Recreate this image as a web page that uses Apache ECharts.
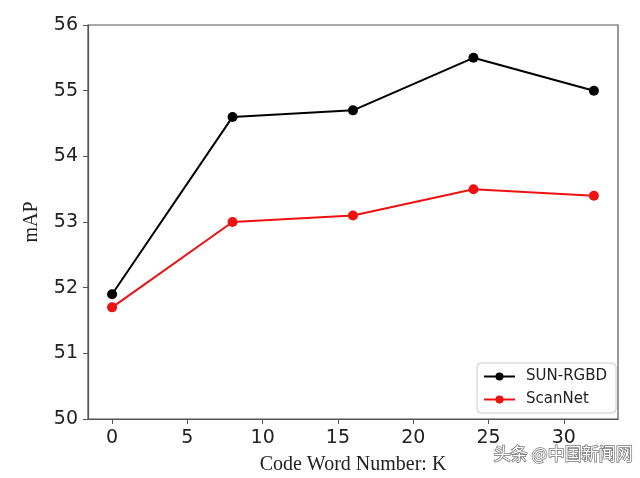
<!DOCTYPE html>
<html><head><meta charset="utf-8">
<script src="https://cdn.jsdelivr.net/npm/echarts@6/dist/echarts.min.js"></script>
<style>html,body{margin:0;padding:0;background:#fff}#c{width:640px;height:478px}</style>
</head><body><div id="c"></div>
<script>
const kValues = [0, 8, 16, 24, 32];
const sunRGBD = [51.9, 54.6, 54.7, 55.5, 55.0];
const scanNet = [51.7, 53.0, 53.1, 53.5, 53.4];
const xTicks = [0, 5, 10, 15, 20, 25, 30];
const seriesNames = ['SUN-RGBD', 'ScanNet'];

const chart = echarts.init(document.getElementById('c'));
chart.setOption({
  backgroundColor: '#fff',
  animation: false,
  grid: {left: 88, right: 22, top: 25, bottom: 59, show: true, borderColor: '#555', borderWidth: 1.2,
         containLabel: false, outerBoundsMode: 'none'},
  legend: {
    data: seriesNames, orient: 'vertical', left: 477, top: 363,
    backgroundColor: '#fff', borderColor: '#ccc', borderWidth: 1, borderRadius: 4,
    padding: [6, 9, 6, 6], itemGap: 8, itemWidth: 31, itemHeight: 10,
    textStyle: {fontFamily: 'DejaVu Sans', fontSize: 15, color: '#222', padding: [0, 0, 0, 6]}
  },
  xAxis: {
    type: 'value', min: -1.6, max: 33.6,
    name: 'Code Word Number: K', nameLocation: 'middle', nameGap: 36,
    nameTextStyle: {fontFamily: 'Liberation Serif', fontSize: 20, color: '#222'},
    axisLine: {onZero: false, lineStyle: {color: '#555', width: 1.2}},
    axisTick: {show: true, customValues: xTicks, length: 5, lineStyle: {color: '#555'}},
    axisLabel: {customValues: xTicks, fontFamily: 'DejaVu Sans', fontSize: 19, color: '#222', margin: 10},
    splitLine: {show: false}
  },
  yAxis: {
    type: 'value', min: 50, max: 56, interval: 1,
    name: 'mAP', nameLocation: 'middle', nameGap: 46,
    nameTextStyle: {fontFamily: 'Liberation Serif', fontSize: 20, color: '#222'},
    axisLine: {show: true, onZero: false, lineStyle: {color: '#555', width: 1.2}},
    axisTick: {show: true, length: 5, lineStyle: {color: '#555'}},
    axisLabel: {fontFamily: 'DejaVu Sans', fontSize: 19, color: '#222', margin: 10},
    splitLine: {show: false}
  },
  series: [
    {name: seriesNames[0], type: 'line', data: kValues.map((k, i) => [k, sunRGBD[i]]),
     symbol: 'circle', symbolSize: 10, color: '#000', lineStyle: {width: 2, color: '#000'}, itemStyle: {color: '#000'}},
    {name: seriesNames[1], type: 'line', data: kValues.map((k, i) => [k, scanNet[i]]),
     symbol: 'circle', symbolSize: 10, color: '#ee1111', lineStyle: {width: 2, color: '#ee1111'}, itemStyle: {color: '#ee1111'}}
  ],
  graphic: [{
    type: 'text', left: 493, top: 444,
    style: {text: '头条 @中国新闻网', font: '17px "Noto Sans CJK SC"', fill: '#fff', stroke: '#777', lineWidth: 1.5}
  }]
});
</script></body></html>
